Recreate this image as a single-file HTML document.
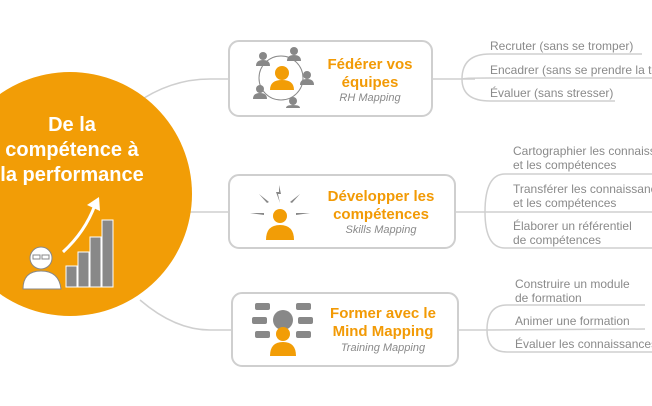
<!DOCTYPE html>
<html><head><meta charset="utf-8"><style>
html,body{margin:0;padding:0;background:#fff;width:652px;height:406px;overflow:hidden}
svg{display:block}
text{font-family:"Liberation Sans",sans-serif}
.t{fill:#f29a05;font-weight:bold;font-size:15px;text-anchor:middle}
.s{fill:#8a8a8a;font-style:italic;font-size:11px;text-anchor:middle}
.l{fill:#8a8a8a;font-size:12px}
.g{fill:none;stroke:#cfcfcf;stroke-width:1.5}
.b{fill:#fff;stroke:#cfcfcf;stroke-width:2}
</style></head><body>
<svg width="652" height="406" viewBox="0 0 652 406">
<path class="g" d="M135 104 Q170 79 210 79 L230 79" stroke-width="3"/>
<path class="g" d="M185 212 L230 212" stroke-width="2.5"/>
<path class="g" d="M140 300 Q175 330 210 330 L233 330" stroke-width="3"/>
<circle cx="70" cy="194" r="122" fill="#f29d06"/>
<text x="72" y="131" fill="#fff" font-weight="bold" font-size="20" text-anchor="middle">De la</text>
<text x="72" y="156" fill="#fff" font-weight="bold" font-size="20" text-anchor="middle">compétence à</text>
<text x="72" y="181" fill="#fff" font-weight="bold" font-size="20" text-anchor="middle">la performance</text>
<circle cx="41" cy="258" r="11" fill="#fff" stroke="#888" stroke-width="1"/>
<path d="M23 289 Q23 271 41 271 Q59 271 61 289 Z" fill="#fff" stroke="#888"/>
<rect x="33" y="255" width="7" height="4" fill="none" stroke="#888"/><rect x="42" y="255" width="7" height="4" fill="none" stroke="#888"/>
<rect x="66" y="266" width="11" height="21" fill="#888" stroke="#fff"/>
<rect x="78" y="252" width="11" height="35" fill="#888" stroke="#fff"/>
<rect x="90" y="237" width="11" height="50" fill="#888" stroke="#fff"/>
<rect x="102" y="220" width="11" height="67" fill="#888" stroke="#fff"/>
<path d="M63 252 Q85 232 95 205" fill="none" stroke="#fff" stroke-width="3"/>
<path d="M99 197 L87 205 L100 211 Z" fill="#fff"/>
<rect class="b" x="229" y="41" width="203" height="75" rx="10"/>
<rect class="b" x="229" y="175" width="226" height="73" rx="10"/>
<rect class="b" x="232" y="293" width="226" height="73" rx="10"/>
<circle cx="281" cy="78" r="22" fill="none" stroke="#888" stroke-width="1"/>
<g fill="#888">
<circle cx="263" cy="56" r="4"/><path d="M256 66 Q256 60 263 60 Q270 60 270 66Z"/>
<circle cx="294" cy="51" r="4"/><path d="M287 61 Q287 55 294 55 Q301 55 301 61Z"/>
<circle cx="307" cy="75" r="4"/><path d="M300 85 Q300 79 307 79 Q314 79 314 85Z"/>
<circle cx="260" cy="89" r="4"/><path d="M253 99 Q253 93 260 93 Q267 93 267 99Z"/>
<circle cx="293" cy="101" r="4"/><path d="M286 108 Q286 105 293 105 Q300 105 300 108Z"/>
</g>
<circle cx="282" cy="73" r="7" fill="#f29d06"/><path d="M270 90 Q270 80 282 80 Q294 80 294 90Z" fill="#f29d06"/>
<text class="t" x="370" y="69">Fédérer vos</text>
<text class="t" x="370" y="87">équipes</text>
<text class="s" x="370" y="101">RH Mapping</text>
<g fill="#888"><path d="M279 185 l2 9 -3 0 2 9 -4 -11 3 0z"/>
<path d="M259 194 l10 8 -2 1z"/><path d="M300 194 l-10 8 2 1z"/><path d="M250 213 l14 0 0 2z"/><path d="M310 213 l-14 0 0 2z"/></g>
<circle cx="280" cy="216" r="7" fill="#f29d06"/><path d="M266 240 Q266 225 280 225 Q294 225 294 240Z" fill="#f29d06"/>
<text class="t" x="381" y="201">Développer les</text>
<text class="t" x="381" y="219">compétences</text>
<text class="s" x="381" y="233">Skills Mapping</text>
<g fill="#888"><rect x="255" y="303" width="15" height="7" rx="2"/><rect x="252" y="317" width="15" height="7" rx="2"/><rect x="255" y="331" width="15" height="7" rx="2"/>
<rect x="296" y="303" width="15" height="7" rx="2"/><rect x="298" y="317" width="15" height="7" rx="2"/><rect x="296" y="331" width="15" height="7" rx="2"/>
<circle cx="283" cy="320" r="10"/></g>
<circle cx="283" cy="334" r="7" fill="#f29d06"/><path d="M270 356 Q270 342 283 342 Q296 342 296 356Z" fill="#f29d06"/>
<text class="t" x="383" y="318">Former avec le</text>
<text class="t" x="383" y="336">Mind Mapping</text>
<text class="s" x="383" y="351">Training Mapping</text>
<path class="g" d="M432 79 L475 79 M462 79 Q462 54 490 54 L642 54 M462 79 Q462 78 490 78 L652 78 M462 79 Q462 101 490 101 L615 101"/>
<text class="l" x="490" y="50">Recruter (sans se tromper)</text>
<text class="l" x="490" y="74">Encadrer (sans se prendre la tête)</text>
<text class="l" x="490" y="97">Évaluer (sans stresser)</text>
<path class="g" d="M455 212 L490 212 M485 212 Q485 174 505 174 L652 174 M485 212 L652 212 M485 212 Q485 248 505 248 L652 248"/>
<text class="l" x="513" y="155">Cartographier les connaissances</text>
<text class="l" x="513" y="169">et les compétences</text>
<text class="l" x="513" y="193">Transférer les connaissances</text>
<text class="l" x="513" y="207">et les compétences</text>
<text class="l" x="513" y="230">Élaborer un référentiel</text>
<text class="l" x="513" y="244">de compétences</text>
<path class="g" d="M458 330 L490 330 M487 330 Q487 305 507 305 L645 305 M487 330 L645 329 M487 330 Q487 352 507 352 L652 352"/>
<text class="l" x="515" y="288">Construire un module</text>
<text class="l" x="515" y="302">de formation</text>
<text class="l" x="515" y="325">Animer une formation</text>
<text class="l" x="515" y="348">Évaluer les connaissances</text>
</svg>
</body></html>
